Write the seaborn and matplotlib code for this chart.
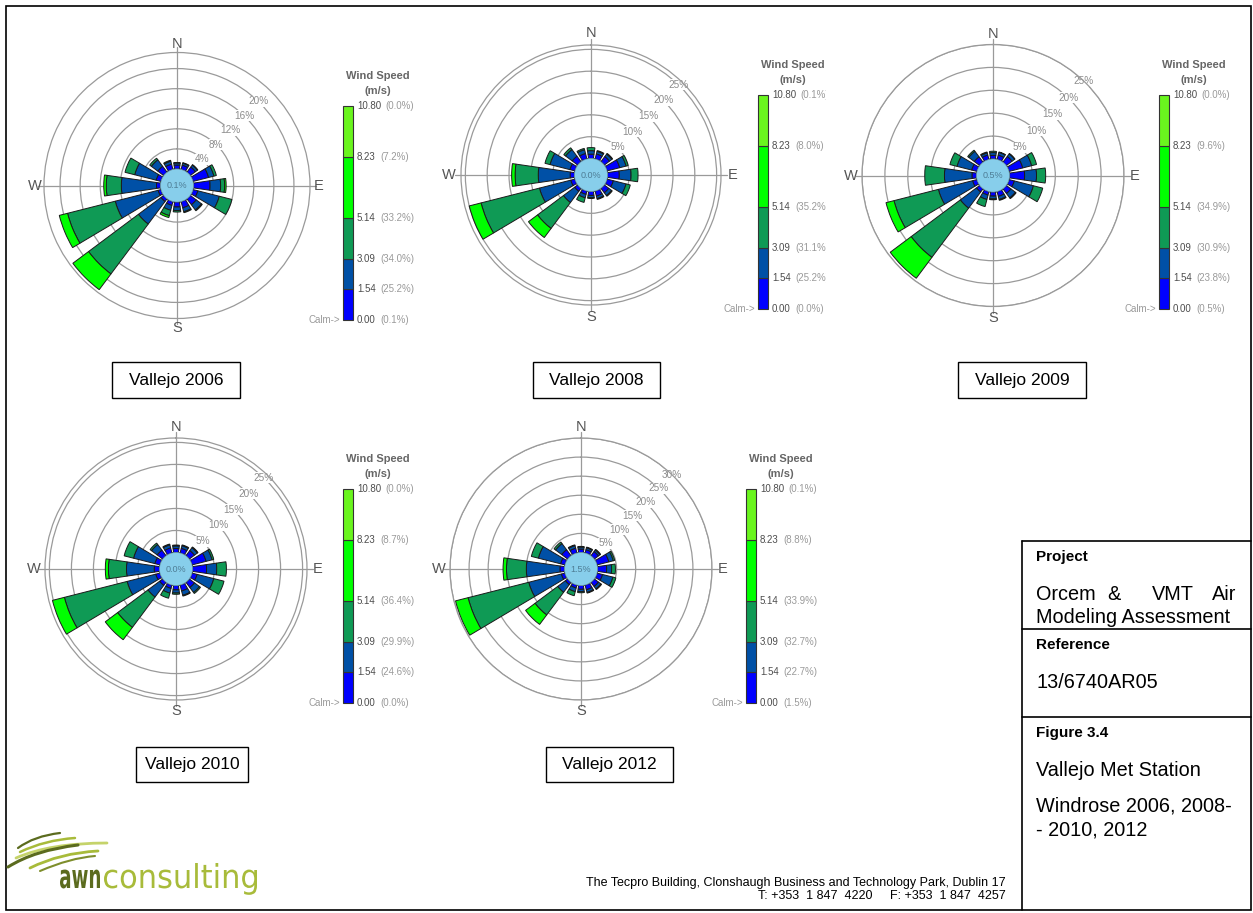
import numpy as np
import matplotlib
matplotlib.use("Agg")
import matplotlib.pyplot as plt
import seaborn as sns
from matplotlib.patches import Rectangle, Circle, PathPatch
from matplotlib.path import Path
from matplotlib.textpath import TextPath
from matplotlib.font_manager import FontProperties
from matplotlib.transforms import Affine2D, Bbox, TransformedBbox

sns.set_theme(style="white")
plt.rcParams["font.family"] = ["Liberation Sans", "DejaVu Sans"]

W, H = 1253, 913

# ---------------------------------------------------------------- data
DIRECTIONS = ["N", "NNE", "NE", "ENE", "E", "ESE", "SE", "SSE",
              "S", "SSW", "SW", "WSW", "W", "WNW", "NW", "NNW"]
SPEED_BOUNDS = [0.00, 1.54, 3.09, 5.14, 8.23, 10.80]
SPEED_COLORS = sns.color_palette(["#0000FF", "#0050A6", "#0F9A55", "#00FF00", "#6AF51E"])

# frequency (%) per direction, columns = speed classes (low -> high)
freq_2006 = [
    [0.8, 0.4, 0.1, 0.0, 0.0], [0.9, 0.4, 0.1, 0.0, 0.0], [1.3, 0.5, 0.1, 0.0, 0.0],
    [3.2, 1.1, 0.5, 0.0, 0.0], [3.3, 2.1, 0.8, 0.3, 0.0], [1.0, 4.4, 2.6, 0.0, 0.0],
    [1.5, 1.3, 0.2, 0.0, 0.0], [1.3, 0.8, 0.2, 0.0, 0.0], [1.0, 0.7, 0.3, 0.0, 0.0],
    [0.8, 1.0, 1.1, 0.4, 0.0], [0.7, 5.6, 12.4, 3.9, 0.0], [0.6, 8.8, 9.8, 1.7, 0.0],
    [0.8, 7.0, 3.0, 0.5, 0.0], [1.0, 4.4, 2.0, 0.0, 0.0], [1.5, 1.6, 0.4, 0.0, 0.0],
    [1.1, 0.6, 0.2, 0.0, 0.0],
]
freq_2008 = [
    [1.0, 0.8, 0.7, 0.0, 0.0], [1.2, 0.6, 0.2, 0.0, 0.0], [1.5, 0.7, 0.2, 0.0, 0.0],
    [3.0, 1.5, 0.5, 0.0, 0.0], [2.7, 2.7, 1.6, 0.0, 0.0], [1.5, 3.0, 1.0, 0.0, 0.0],
    [1.3, 0.8, 0.2, 0.0, 0.0], [1.2, 0.6, 0.2, 0.0, 0.0], [0.9, 0.5, 0.2, 0.0, 0.0],
    [0.8, 0.8, 1.1, 0.0, 0.0], [0.9, 3.2, 7.4, 2.6, 0.0], [1.0, 7.4, 13.8, 2.8, 0.0],
    [1.0, 7.3, 5.3, 0.8, 0.0], [1.2, 4.7, 1.2, 0.0, 0.0], [1.6, 1.9, 0.5, 0.0, 0.0],
    [1.3, 0.9, 0.3, 0.0, 0.0],
]
freq_2009 = [
    [0.8, 0.6, 0.3, 0.0, 0.0], [1.0, 0.6, 0.1, 0.0, 0.0], [1.6, 0.7, 0.1, 0.0, 0.0],
    [3.1, 2.0, 1.1, 0.0, 0.0], [3.3, 2.6, 2.0, 0.0, 0.0], [1.2, 4.3, 2.1, 0.0, 0.0],
    [1.3, 1.2, 0.2, 0.0, 0.0], [1.1, 0.7, 0.2, 0.0, 0.0], [0.9, 0.6, 0.2, 0.0, 0.0],
    [0.8, 1.0, 1.6, 0.0, 0.0], [0.9, 4.4, 13.4, 5.7, 0.0], [1.0, 7.7, 10.0, 1.8, 0.0],
    [1.0, 6.0, 4.3, 0.0, 0.0], [1.2, 3.3, 1.6, 0.0, 0.0], [1.5, 1.5, 0.3, 0.0, 0.0],
    [1.0, 0.5, 0.2, 0.0, 0.0],
]
freq_2010 = [
    [0.9, 0.6, 0.2, 0.0, 0.0], [1.1, 0.6, 0.2, 0.0, 0.0], [1.5, 0.8, 0.2, 0.0, 0.0],
    [3.3, 1.4, 0.4, 0.0, 0.0], [3.2, 2.3, 2.2, 0.0, 0.0], [1.2, 3.9, 2.4, 0.0, 0.0],
    [1.5, 1.4, 0.3, 0.0, 0.0], [1.4, 1.0, 0.2, 0.0, 0.0], [1.0, 0.7, 0.3, 0.0, 0.0],
    [0.8, 1.1, 1.2, 0.0, 0.0], [0.9, 3.3, 8.6, 3.5, 0.0], [1.0, 6.7, 14.7, 2.8, 0.0],
    [1.2, 6.3, 4.1, 0.7, 0.0], [1.2, 5.0, 2.2, 0.0, 0.0], [1.6, 1.6, 0.4, 0.0, 0.0],
    [1.2, 0.7, 0.2, 0.0, 0.0],
]
freq_2012 = [
    [0.9, 0.5, 0.2, 0.0, 0.0], [0.9, 0.5, 0.2, 0.0, 0.0], [1.4, 0.5, 0.2, 0.0, 0.0],
    [3.2, 1.2, 0.4, 0.0, 0.0], [2.4, 1.3, 1.0, 0.0, 0.0], [1.5, 2.8, 0.8, 0.0, 0.0],
    [1.4, 0.8, 0.2, 0.0, 0.0], [1.3, 0.7, 0.2, 0.0, 0.0], [1.0, 0.6, 0.3, 0.0, 0.0],
    [0.8, 1.0, 1.1, 0.0, 0.0], [0.8, 2.5, 7.4, 3.1, 0.0], [1.0, 8.8, 16.4, 3.4, 0.0],
    [1.2, 8.8, 5.2, 0.9, 0.0], [1.2, 6.0, 1.9, 0.0, 0.0], [2.0, 2.0, 0.5, 0.0, 0.0],
    [1.3, 0.7, 0.2, 0.0, 0.0],
]

# legend percentages, one per speed bound (0.00 ... 10.80); the first is calms
class_pct_2006 = [0.1, 25.2, 34.0, 33.2, 7.2, 0.0]
class_pct_2008 = [0.0, 25.2, 31.1, 35.2, 8.0, 0.1]
class_pct_2009 = [0.5, 23.8, 30.9, 34.9, 9.6, 0.0]
class_pct_2010 = [0.0, 24.6, 29.9, 36.4, 8.7, 0.0]
class_pct_2012 = [1.5, 22.7, 32.7, 33.9, 8.8, 0.1]

rings_2006 = [4, 8, 12, 16, 20]
rings_2008 = [5, 10, 15, 20, 25]
rings_2009 = [5, 10, 15, 20, 25]
rings_2010 = [5, 10, 15, 20, 25]
rings_2012 = [5, 10, 15, 20, 25, 30]

rmax_2006, rmax_2008, rmax_2009, rmax_2010, rmax_2012 = 23.2, 26.0, 25.0, 26.0, 30.0

captions = ["Vallejo 2006", "Vallejo 2008", "Vallejo 2009", "Vallejo 2010", "Vallejo 2012"]

# ---------------------------------------------------------------- figure
fig = plt.figure(figsize=(W / 100, H / 100), dpi=100)
fig.patch.set_facecolor("white")
PX = Affine2D().scale(1 / W, -1 / H).translate(0, 1) + fig.transFigure


def fx(x):
    return x / W


def fy(y):
    return 1 - y / H


GRID = "#9a9a9a"
CALM_PX = 16.5


def draw_rose(cx, cy, radius, freqs, calm, rings, rmax):
    ax = fig.add_axes([fx(cx - radius), fy(cy + radius), 2 * radius / W, 2 * radius / H],
                      projection="polar")
    ax.set_theta_zero_location("N")
    ax.set_theta_direction(-1)
    px_per = (radius - CALM_PX) / rmax
    ax.set_rorigin(-CALM_PX / px_per)
    ax.set_ylim(0, rmax)
    ax.set_facecolor("white")

    theta = np.deg2rad(np.arange(len(DIRECTIONS)) * 22.5)
    data = np.asarray(freqs, dtype=float)
    bottom = np.zeros(len(DIRECTIONS))
    for k, col in enumerate(SPEED_COLORS):
        m = data[:, k] > 0
        if m.any():
            ax.bar(theta[m], data[m, k], width=np.deg2rad(16.5), bottom=bottom[m],
                   color=col, edgecolor="#1a1a1a", linewidth=0.7, zorder=3)
        bottom += data[:, k]

    ax.set_yticks(rings)
    ax.set_yticklabels([])
    ax.set_xticks(np.deg2rad([0, 90, 180, 270]))
    ax.set_xticklabels([])
    ax.tick_params(length=0)
    ax.yaxis.grid(True, color=GRID, lw=0.9)
    ax.xaxis.grid(True, color=GRID, lw=0.9)
    ax.set_axisbelow(True)
    ax.spines["polar"].set_color(GRID)
    ax.spines["polar"].set_linewidth(0.9)
    ax.spines["inner"].set_visible(False)

    for r in rings:
        ax.text(np.deg2rad(44), r, f"{r}%", ha="center", va="center", fontsize=7.2,
                color="#8c8c8c", zorder=2.5,
                bbox=dict(boxstyle="square,pad=0.05", fc="white", ec="none"))

    r_lab = (142 - CALM_PX) / px_per
    for ang, lab in zip([0, 90, 180, 270], "NESW"):
        t = np.deg2rad(ang)
        ax.text(t, r_lab, lab, ha="center", va="center", fontsize=10.5,
                color="#555555", clip_on=False)
        ax.plot([t, t], [rmax, rmax + 6 / px_per], color=GRID, lw=0.9, clip_on=False)

    ax.add_patch(Circle((0.5, 0.5), 0.5 * CALM_PX / radius, transform=ax.transAxes,
                        facecolor="#87CEEB", edgecolor="#6d9cb4", lw=0.5, zorder=5,
                        clip_on=False))
    ax.text(0.5, 0.5, f"{calm:.1f}%", transform=ax.transAxes, ha="center",
            va="center", fontsize=6.5, color="#4e7d95", zorder=6)
    return ax


def draw_legend(x, top, pcts, clip_right=None):
    h = (SPEED_BOUNDS[-1] - SPEED_BOUNDS[0]) * 19.8
    cax = fig.add_axes([fx(x), fy(top + h), 10 / W, h / H])
    widths = np.diff(SPEED_BOUNDS)
    cax.bar(0, widths, bottom=SPEED_BOUNDS[:-1], width=1, color=SPEED_COLORS,
            edgecolor="#333333", linewidth=0.8, clip_on=False)
    cax.set_xlim(-0.5, 0.5)
    cax.set_ylim(SPEED_BOUNDS[0], SPEED_BOUNDS[-1])
    cax.axis("off")
    trans = cax.get_yaxis_transform()
    clip = None
    if clip_right is not None:
        clip = TransformedBbox(Bbox.from_extents(0, 0, fx(clip_right), 1), fig.transFigure)
    for b, p in zip(SPEED_BOUNDS, pcts):
        t = cax.text(1.4, b, f"{b:.2f}", transform=trans, ha="left", va="center",
                     fontsize=7, color="#4d4d4d")
        a = cax.annotate(f"({p:.1f}%)", xy=(1, 0.5), xycoords=t, xytext=(3, 0),
                         textcoords="offset points", ha="left", va="center",
                         fontsize=7, color="#9a9a9a")
        if clip is not None:
            for art in (t, a):
                art.set_clip_box(clip)
                art.set_clip_on(True)
    cax.text(-0.25, SPEED_BOUNDS[0], "Calm->", transform=trans, ha="right", va="center",
             fontsize=7, color="#9a9a9a")
    fig.text(fx(x + 35), fy(top - 30), "Wind Speed", ha="center", va="center",
             fontsize=8, fontweight="bold", color="#666666")
    fig.text(fx(x + 35), fy(top - 15), "(m/s)", ha="center", va="center",
             fontsize=8, fontweight="bold", color="#666666")


def caption_box(x0, y0, x1, y1, text):
    fig.add_artist(Rectangle((x0, y1), x1 - x0, y0 - y1, transform=PX, fill=False,
                             ec="black", lw=1.0))
    fig.text(fx((x0 + x1) / 2), fy((y0 + y1) / 2), text, ha="center", va="center",
             fontsize=12.5, color="black")


panels = [
    (177, 185.5, 133, freq_2006, class_pct_2006, rings_2006, rmax_2006, 343, 106, None, (112, 362, 240, 398)),
    (591, 175, 130, freq_2008, class_pct_2008, rings_2008, rmax_2008, 758, 95, 826, (533, 362, 660, 398)),
    (993, 175.5, 131, freq_2009, class_pct_2009, rings_2009, rmax_2009, 1159, 95, None, (958, 362, 1086, 398)),
    (176, 569, 131, freq_2010, class_pct_2010, rings_2010, rmax_2010, 343, 489, None, (136, 747, 248, 782)),
    (581, 569, 131, freq_2012, class_pct_2012, rings_2012, rmax_2012, 746, 489, None, (546, 747, 673, 782)),
]

for (cx, cy, rad, fr, pct, rings, rmax, lx, ltop, lclip, box), cap in zip(panels, captions):
    draw_rose(cx, cy, rad, fr, pct[0], rings, rmax)
    draw_legend(lx, ltop, pct, clip_right=lclip)
    caption_box(*box, cap)

# ---------------------------------------------------------------- frame and title block
fig.add_artist(Rectangle((6, 910), 1245, -904, transform=PX, fill=False, ec="black", lw=1.2))
for y in (541, 629, 717):
    fig.add_artist(plt.Line2D([1022, 1251], [y, y], transform=PX, color="black", lw=1.2))
fig.add_artist(plt.Line2D([1022, 1022], [541, 910], transform=PX, color="black", lw=1.2))

HDR = dict(fontsize=11, fontweight="bold", color="black", ha="left", va="baseline")
BODY = dict(fontsize=14.3, color="black", va="baseline")
fig.text(fx(1036), fy(561.5), "Project", **HDR)
fig.text(fx(1036), fy(600), "Orcem", ha="left", **BODY)
fig.text(fx(1113.5), fy(600), "&", ha="center", **BODY)
fig.text(fx(1173), fy(600), "VMT", ha="center", **BODY)
fig.text(fx(1236.5), fy(600), "Air", ha="right", **BODY)
fig.text(fx(1036), fy(623), "Modeling Assessment", ha="left", **BODY)
fig.text(fx(1036), fy(649), "Reference", **HDR)
fig.text(fx(1036), fy(688), "13/6740AR05", ha="left", **BODY)
fig.text(fx(1036), fy(736.5), "Figure 3.4", **HDR)
fig.text(fx(1036), fy(775.5), "Vallejo Met Station", ha="left", **BODY)
fig.text(fx(1036), fy(811.5), "Windrose 2006, 2008-", ha="left", **BODY)
fig.text(fx(1036), fy(835), "- 2010, 2012", ha="left", **BODY)

fig.text(fx(1006), fy(886), "The Tecpro Building, Clonshaugh Business and Technology Park, Dublin 17",
         ha="right", va="baseline", fontsize=9, color="black")
fig.text(fx(1006), fy(899), "T: +353  1 847  4220     F: +353  1 847  4257",
         ha="right", va="baseline", fontsize=9, color="black")

# ---------------------------------------------------------------- logo
def logo_word(text, x0, x1, baseline, xheight, weight, color):
    prop = FontProperties(family="DejaVu Sans", weight=weight)
    tp = TextPath((0, 0), text, size=1, prop=prop)
    ext = tp.get_extents()
    em = xheight / 0.547
    sx = (x1 - x0) / (ext.width * em)
    tr = Affine2D().translate(-ext.x0, 0).scale(sx * em, -em).translate(x0, baseline) + PX
    fig.add_artist(PathPatch(tp, transform=tr, facecolor=color, edgecolor="none"))


logo_word("awn", 60, 100, 888, 18, "bold", "#5B6B1E")
logo_word("consulting", 104, 257, 888, 18, "normal", "#A8BB3A")

swooshes = [
    ((18, 848), (34, 836), (60, 833), "#5B6B1E", 1.6),
    ((20, 852), (45, 840), (75, 838), "#A8BB3A", 1.8),
    ((16, 858), (50, 843), (107, 843), "#C5D36A", 2.0),
    ((8, 867), (35, 850), (78, 845), "#5B6B1E", 2.2),
    ((30, 868), (60, 853), (98, 851), "#A8BB3A", 2.0),
    ((40, 871), (70, 858), (95, 856), "#7E8E2C", 1.5),
]
for p0, p1, p2, col, lw in swooshes:
    path = Path([p0, p1, p2], [Path.MOVETO, Path.CURVE3, Path.CURVE3])
    fig.add_artist(PathPatch(path, transform=PX, fill=False, edgecolor=col, lw=lw,
                             capstyle="round"))

fig.savefig("out.png", dpi=100, facecolor="white")
